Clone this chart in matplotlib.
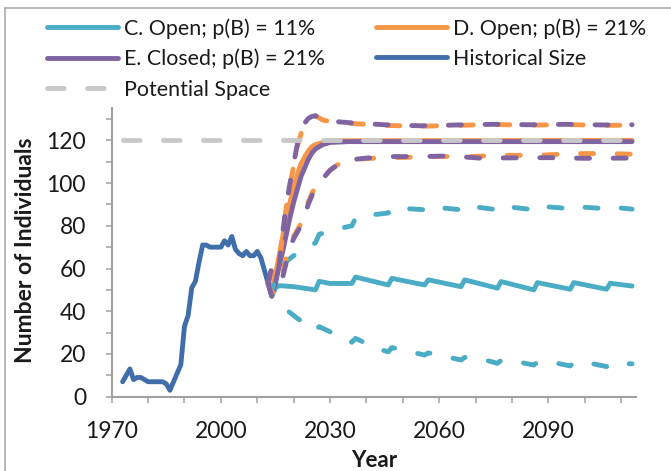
import matplotlib
matplotlib.use("Agg")
import matplotlib.pyplot as plt
from matplotlib.lines import Line2D
from matplotlib.ticker import FixedLocator, MultipleLocator

plt.rcParams['font.family'] = ['Lato', 'DejaVu Sans']
plt.rcParams['lines.scale_dashes'] = False

# Historical population counts, 1973-2013
hist_years = list(range(1973, 2014))
hist_size = [7, 10, 13, 8, 9, 9, 8, 7, 7, 7, 7, 7, 6, 3, 7, 11, 15, 33, 38, 51,
             54, 63, 71, 71, 70, 70, 70, 70, 73, 71, 75, 69, 67, 66, 68, 66, 66, 68, 65, 59,
             53]

# Scenario C: open population, p(B) = 11%
c_mean_years = [2013, 2014, 2015, 2016, 2020, 2026, 2027, 2030, 2036, 2037, 2046, 2047,
                2056, 2057, 2066, 2067, 2076, 2077, 2086, 2087, 2096, 2097, 2106, 2107, 2113]
c_mean = [53, 47, 51, 52, 51.5, 50, 54, 53, 53, 56, 52.3, 55.4,
          52.3, 54.7, 51.5, 54.7, 50.8, 53.9, 50, 53.4, 50.3, 53.4, 50.3, 53.1, 51.8]
c_hi_years = [2013, 2014, 2015, 2017, 2020, 2024, 2026, 2027, 2032, 2036, 2037, 2041, 2046,
              2047, 2056, 2057, 2066, 2067, 2076, 2077, 2086, 2087, 2096, 2097, 2106, 2107, 2113]
c_hi = [53, 50, 55, 62, 66, 70, 72, 76, 78.5, 80, 83.5, 85, 86,
        88.5, 87.5, 89, 87.5, 89.5, 87.5, 89.3, 87.5, 89.3, 88, 89, 88, 88.8, 87.8]
c_lo_years = [2013, 2014, 2017, 2021, 2026, 2027, 2029, 2036, 2037, 2043, 2046, 2047, 2056,
              2057, 2066, 2067, 2072, 2076, 2077, 2082, 2086, 2087, 2092, 2096, 2097, 2102,
              2106, 2107, 2113]
c_lo = [53, 47, 42, 36.7, 31, 32.8, 31.2, 25.5, 27.3, 22.5, 21, 23, 19.5,
        20.5, 17.2, 18.4, 17.5, 15.6, 17, 16.2, 14.8, 16.2, 15.8, 14.4, 15.9, 15.5,
        14.1, 15.6, 15.4]

# Scenario D: open population, p(B) = 21%
d_mean_years = [2013, 2014, 2015, 2016, 2017, 2018, 2019, 2020, 2021, 2022, 2023, 2024,
                2025, 2026, 2028, 2030, 2113]
d_mean = [53, 50, 57, 66, 75, 83, 91, 98, 104, 109, 112, 115, 117, 118, 119, 119.8, 120]
d_hi_years = [2013, 2014, 2015, 2016, 2017, 2018, 2019, 2020, 2021, 2022, 2023, 2024, 2025,
              2026, 2027, 2028, 2030, 2035, 2045, 2055, 2065, 2075, 2085, 2095, 2105, 2113]
d_hi = [53, 59, 58, 62, 76, 89, 99, 108, 117, 123, 127.5, 130, 131,
        131.5, 130.5, 129.5, 128.8, 128, 127, 126.6, 127, 127.4, 127.1, 127.4, 127, 127.1]
d_lo_years = [2013, 2014, 2015, 2016, 2017, 2018, 2019, 2020, 2021, 2022, 2023, 2024, 2025,
              2026, 2027, 2028, 2030, 2032, 2035, 2040, 2050, 2060, 2067, 2077, 2087, 2097,
              2107, 2113]
d_lo = [53, 48, 51, 54, 58, 65, 71, 75, 78, 81, 86, 91, 95,
        98.5, 100.5, 102.5, 106, 108.5, 110.8, 111.5, 112, 112.5, 112.3, 113, 113,
        113.8, 113.8, 113.5]

# Scenario E: closed population, p(B) = 21%
e_mean_years = [2013, 2014, 2015, 2016, 2017, 2018, 2019, 2020, 2021, 2022, 2023, 2024,
                2025, 2026, 2027, 2028, 2030, 2035, 2113]
e_mean = [53, 48, 53, 61, 68, 76, 84, 91, 97, 103, 107, 111,
          114, 116, 117, 118, 119, 119.4, 119.4]
e_hi_years = [2013, 2014, 2015, 2016, 2017, 2018, 2019, 2020, 2021, 2022, 2023, 2024, 2025,
              2026, 2027, 2028, 2030, 2035, 2045, 2055, 2065, 2075, 2085, 2095, 2105, 2113]
e_hi = [53, 61, 57, 61, 77, 90, 100, 109, 118, 124, 128, 130.2, 131.2,
        131.5, 130.5, 129.5, 129, 128.3, 127.3, 126.8, 127.2, 127.5, 127.3, 127.5, 127.2, 127.3]
e_lo_years = [2013, 2014, 2015, 2016, 2017, 2018, 2019, 2020, 2021, 2022, 2023, 2024, 2025,
              2026, 2027, 2028, 2030, 2032, 2035, 2040, 2047, 2055, 2063, 2071, 2080, 2090,
              2100, 2113]
e_lo = [53, 47, 50, 53, 56, 63, 70, 74, 77, 80, 85, 90, 94,
        98, 100, 102, 106, 108.5, 110.8, 111.7, 112.4, 112.4, 112.7, 111.7, 111.8, 111.9,
        111.6, 111.7]

# Carrying capacity of the available space
space_years = [1973, 2113]
space_size = [120, 120]

year_labels = [1970, 2000, 2030, 2060, 2090]

CYAN = '#4BACC6'
ORANGE = '#F79646'
PURPLE = '#8064A2'
BLUE = '#3F6EAA'
GREY = '#C8C8C8'
AXIS = '#A0A0A0'

LW = 3.5
DASH = (0, (9.4, 17.0))
SPACE_DASH = (0, (12.0, 16.8))

fig = plt.figure(figsize=(6.71, 4.71), dpi=100)
ax = fig.add_axes([111.7 / 671, 74.3 / 471, 524 / 671, 288.4 / 471])

kw = dict(lw=LW, solid_capstyle='round', dash_capstyle='round', solid_joinstyle='round')
c_line, = ax.plot(c_mean_years, c_mean, color=CYAN, zorder=2, **kw)
d_line, = ax.plot(d_mean_years, d_mean, color=ORANGE, zorder=2, **kw)
e_line, = ax.plot(e_mean_years, e_mean, color=PURPLE, zorder=2, **kw)
h_line, = ax.plot(hist_years, hist_size, color=BLUE, zorder=3, **kw)

for yrs, vals, col in [(c_hi_years, c_hi, CYAN), (c_lo_years, c_lo, CYAN),
                       (d_hi_years, d_hi, ORANGE), (d_lo_years, d_lo, ORANGE),
                       (e_hi_years, e_hi, PURPLE), (e_lo_years, e_lo, PURPLE)]:
    ax.plot(yrs, vals, color=col, ls=DASH, zorder=4, **kw)

s_line, = ax.plot(space_years, space_size, color=GREY, ls=SPACE_DASH, zorder=5, **kw)

ax.set_xlim(1970, 2114)
ax.set_ylim(0, 135)
for side in ['top', 'right']:
    ax.spines[side].set_visible(False)
for side in ['left', 'bottom']:
    ax.spines[side].set_color(AXIS)
    ax.spines[side].set_linewidth(1.5)

ax.xaxis.set_major_locator(FixedLocator(year_labels))
ax.xaxis.set_minor_locator(MultipleLocator(10))
ax.yaxis.set_major_locator(MultipleLocator(20))
ax.yaxis.set_minor_locator(MultipleLocator(10))
ax.tick_params(which='both', direction='out', length=4.5, width=1.1, color=AXIS,
               labelsize=16.5, labelcolor='#1a1a1a')
ax.tick_params(axis='x', which='both', pad=13)
ax.tick_params(axis='y', which='both', pad=14)

fig.text(373.7 / 671, 1 - 467 / 471, 'Year', ha='center', va='baseline',
         fontsize=16, fontweight='bold', color='#1a1a1a')
fig.text(26 / 671, 1 - 250 / 471, 'Number of Individuals', ha='center', va='center',
         rotation=90, fontsize=16.5, fontweight='bold', color='#1a1a1a')

# Legend: two columns placed above the plot area
leg_kw = dict(loc='upper left', frameon=False, fontsize=15.4, handlelength=3.3,
              handletextpad=0.32, labelspacing=0.48, borderpad=0, borderaxespad=0,
              bbox_transform=fig.transFigure, labelcolor='#1a1a1a')
leg1 = fig.legend([c_line, e_line, s_line],
                  ['C. Open; p(B) = 11%', 'E. Closed; p(B) = 21%', 'Potential Space'],
                  bbox_to_anchor=(47 / 671, 1 - 18 / 471), **leg_kw)
leg2 = fig.legend([d_line, h_line], ['D. Open; p(B) = 21%', 'Historical Size'],
                  bbox_to_anchor=(376 / 671, 1 - 18 / 471), **leg_kw)

# Chart area border (top and left edges)
fig.add_artist(Line2D([5 / 671, 5 / 671], [0, 1 - 8.3 / 471], transform=fig.transFigure,
                      color='#A6A6A6', lw=1.1))
fig.add_artist(Line2D([5 / 671, 1], [1 - 8.3 / 471, 1 - 8.3 / 471], transform=fig.transFigure,
                      color='#A6A6A6', lw=1.1))

fig.savefig('out.png', dpi=100)
